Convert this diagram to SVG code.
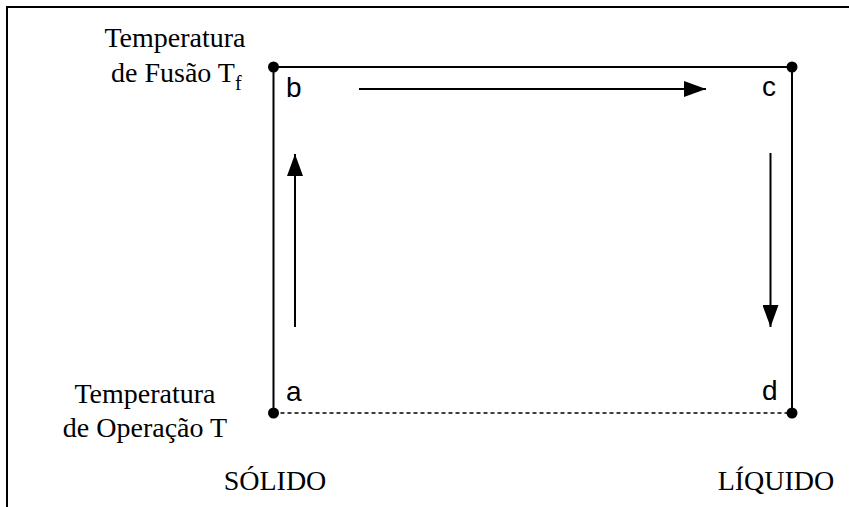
<svg xmlns="http://www.w3.org/2000/svg" width="849" height="507" viewBox="0 0 849 507">
<style>
.ln{stroke:#000;stroke-width:2;fill:none}
.dash{stroke:#000;stroke-width:1.6;fill:none;stroke-dasharray:4 3}
.ser{font-family:"Liberation Serif","Times New Roman",serif;font-size:28px;fill:#000}
.san{font-family:"Liberation Sans",Arial,sans-serif;font-size:28px;fill:#000}
.dot{fill:#000}
</style>
<defs>
<marker id="ah" viewBox="0 0 22 16" refX="22" refY="8" markerWidth="22" markerHeight="16" markerUnits="userSpaceOnUse" orient="auto">
<path d="M0,0 L22,8 L0,16 Z" fill="#000"/>
</marker>
</defs>
<rect width="849" height="507" fill="#fff"/>
<path class="ln" d="M7,507 V7 H849"/>
<g id="texts">
<text class="ser" x="175" y="47" text-anchor="middle">Temperatura</text>
<text class="ser" x="111" y="82">de Fusão T<tspan font-size="20" dy="8">f</tspan></text>
<text class="ser" x="145" y="403" text-anchor="middle">Temperatura</text>
<text class="ser" x="145" y="437" text-anchor="middle">de Operação T</text>
<text class="ser" x="275" y="490" text-anchor="middle">SÓLIDO</text>
<text class="ser" x="776" y="490" text-anchor="middle" font-size="27">LÍQUIDO</text>
</g>
<g id="connectors">
<path class="ln" d="M273.5,67 H792"/>
<path class="ln" d="M273.5,67 V413"/>
<path class="ln" d="M792,67 V413"/>
<path class="dash" d="M273.5,413 H792"/>
<path class="ln" d="M359,89 H706" marker-end="url(#ah)"/>
<path class="ln" d="M295,327 V154" marker-end="url(#ah)"/>
<path class="ln" d="M770.5,153 V327" marker-end="url(#ah)"/>
</g>
<g id="node-b"><circle class="dot" cx="273.5" cy="67" r="5.5"/><text class="san" x="286" y="97">b</text></g>
<g id="node-c"><circle class="dot" cx="792" cy="67" r="5.5"/><text class="san" x="762" y="96">c</text></g>
<g id="node-a"><circle class="dot" cx="273.5" cy="413" r="5.5"/><text class="san" x="286" y="401">a</text></g>
<g id="node-d"><circle class="dot" cx="792" cy="413" r="5.5"/><text class="san" x="762" y="400">d</text></g>
</svg>
